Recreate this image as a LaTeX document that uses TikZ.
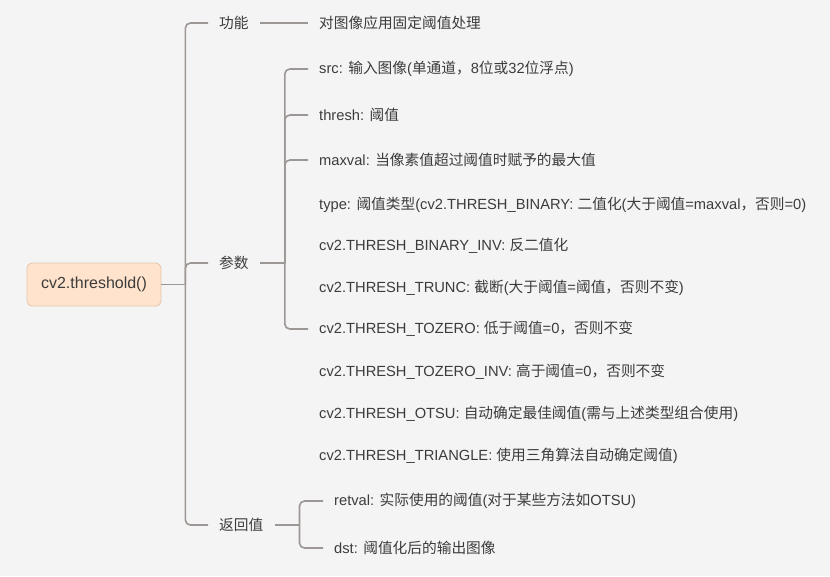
\documentclass[tikz,border=0pt]{standalone}
\usepackage{fontspec}
\setmainfont{Liberation Sans}
\newfontfamily\cjk{Noto Sans CJK SC}
\newcommand{\zh}[1]{{\cjk #1}}
\definecolor{bgc}{HTML}{F4F4F4}
\definecolor{txt}{HTML}{3C3C3C}
\definecolor{linec}{HTML}{9C9794}
\definecolor{rootfill}{HTML}{FFE3CC}
\definecolor{rootdraw}{HTML}{E2C6AC}
\begin{document}
\begin{tikzpicture}[x=1pt,y=-1pt,
  every node/.style={text=txt, font=\fontsize{14.7}{17}\selectfont},
  rootbox/.style={draw=rootdraw, fill=rootfill, rounded corners=5pt, line width=0.8pt,
     minimum width=134pt, minimum height=43pt, inner sep=0pt, font=\fontsize{16}{19}\selectfont},
  mid/.style={anchor=west, inner xsep=11pt, inner ysep=2pt},
  leaf/.style={anchor=west, inner xsep=11pt, inner ysep=2pt},
  conn/.style={draw=linec, line width=1.6pt, rounded corners=5pt}]
\fill[bgc] (0,0) rectangle (830,576);
\useasboundingbox (0,0) rectangle (830,576);

\node[rootbox] (root) at (94,284.5) {cv2.threshold()};

\node[mid] (gn) at (208,23) {\zh{功能}};
\node[mid] (cs) at (208,263) {\zh{参数}};
\node[mid] (fh) at (208,525) {\zh{返回值}};

\node[leaf] (func) at (308,23) {\zh{对图像应用固定阈值处理}};
\node[leaf] (src) at (308,69) {src: \zh{输入图像}(\zh{单通道，}8\zh{位或}32\zh{位浮点})};
\node[leaf] (thr) at (308,115) {thresh: \zh{阈值}};
\node[leaf] (maxv) at (308,160) {maxval: \zh{当像素值超过阈值时赋予的最大值}};
\node[leaf] (typ) at (308,205) {type: \zh{阈值类型}(cv2.THRESH\_BINARY: \zh{二值化}(\zh{大于阈值}=maxval\zh{，否则}=0)};
\node[leaf] (binv) at (308,246) {cv2.THRESH\_BINARY\_INV: \zh{反二值化}};
\node[leaf] (trunc) at (308,288) {cv2.THRESH\_TRUNC: \zh{截断}(\zh{大于阈值}=\zh{阈值，否则不变})};
\node[leaf] (tozero) at (308,329) {cv2.THRESH\_TOZERO: \zh{低于阈值}=0\zh{，否则不变}};
\node[leaf] (tozinv) at (308,372) {cv2.THRESH\_TOZERO\_INV: \zh{高于阈值}=0\zh{，否则不变}};
\node[leaf] (otsu) at (308,414) {cv2.THRESH\_OTSU: \zh{自动确定最佳阈值}(\zh{需与上述类型组合使用})};
\node[leaf] (tri) at (308,456) {cv2.THRESH\_TRIANGLE: \zh{使用三角算法自动确定阈值})};
\node[leaf] (ret) at (323,501) {retval: \zh{实际使用的阈值}(\zh{对于某些方法如}OTSU)};
\node[leaf] (dst) at (323,548) {dst: \zh{阈值化后的输出图像}};

% root connectors
\draw[conn] (root.east) -- ++(24,0) coordinate (j0);
\draw[conn] (j0) |- (gn.west);
\draw[conn] (j0) |- (cs.west);
\draw[conn] (j0) |- (fh.west);

% function
\draw[conn] (gn.east) -- (func.west);

% parameters
\draw[conn] (cs.east) -- ++(25,0) coordinate (j1);
\draw[conn] (j1) |- (src.west);
\draw[conn] (j1) |- (thr.west);
\draw[conn] (j1) |- (maxv.west);
\draw[conn] (j1) |- (tozero.west);

% return values
\draw[conn] (fh.east) -- ++(25,0) coordinate (j2);
\draw[conn] (j2) |- (ret.west);
\draw[conn] (j2) |- (dst.west);
\end{tikzpicture}
\end{document}
